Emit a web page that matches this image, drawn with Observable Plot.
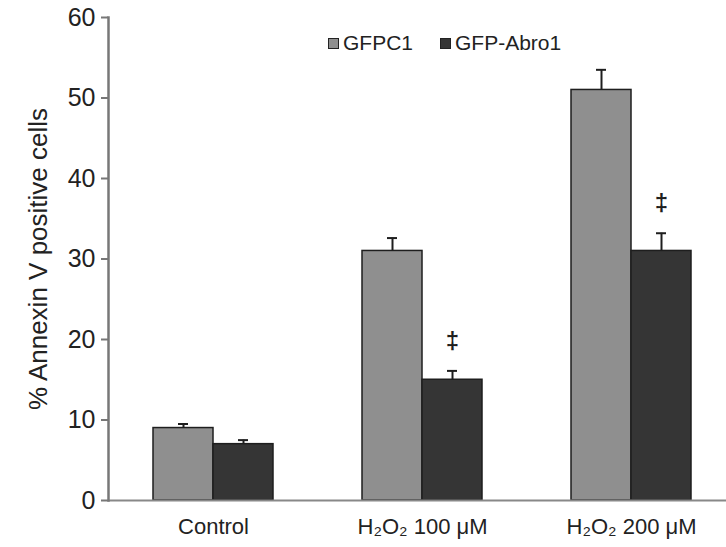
<!DOCTYPE html>
<html>
<head>
<meta charset="utf-8">
<script src="https://cdn.jsdelivr.net/npm/d3@7"></script>
<script src="https://cdn.jsdelivr.net/npm/@observablehq/plot@0.6"></script>
<style>
  body { margin: 0; background: #fff; font-family: "Liberation Sans", Arial, sans-serif; }
  #wrap { position: relative; width: 726px; height: 547px; }
  #legend { position: absolute; left: 328px; top: 30px; display: flex; gap: 27px; font-size: 21px; color: #222; line-height: 26px; }
  #legend span.item { display: flex; align-items: center; gap: 4px; }
  #legend span.sw { display: inline-block; width: 9px; height: 9px; border: 1px solid #222; }
</style>
</head>
<body>
<div id="wrap"><div id="legend"></div></div>
<script>
const categories = ["Control", "H₂O₂ 100 μM", "H₂O₂ 200 μM"];
const series = ["GFPC1", "GFP-Abro1"];
const colors = ["#8f8f8f", "#353535"];
const gfpc1 = [9, 31, 51];
const gfpc1Err = [0.5, 1.6, 2.5];
const abro1 = [7, 15, 31];
const abro1Err = [0.5, 1.1, 2.2];
const abro1Mark = ["", "‡", "‡"];
const yTicks = [0, 10, 20, 30, 40, 50, 60];
const yLabel = "% Annexin V positive cells";

const rowsA = categories.map((c, i) => ({category: c, value: gfpc1[i], err: gfpc1Err[i]}));
const rowsB = categories.map((c, i) => ({category: c, value: abro1[i], err: abro1Err[i], mark: abro1Mark[i]}));

const half = 60;
const ink = "#1e1e1e";

const chart = Plot.plot({
  width: 726,
  height: 547,
  marginTop: 17,
  marginBottom: 47,
  marginLeft: 108,
  marginRight: 0,
  style: {fontFamily: "Liberation Sans, Arial, sans-serif", color: "#222", background: "transparent"},
  x: {domain: categories, range: [108, 735], paddingInner: 0.426, paddingOuter: 0.213, label: null},
  y: {domain: [0, 60], label: null},
  marks: [
    Plot.barY(rowsA, {x: "category", y: "value", fill: colors[0], stroke: ink, strokeWidth: 1.5, insetRight: half}),
    Plot.barY(rowsB, {x: "category", y: "value", fill: colors[1], stroke: ink, strokeWidth: 1.5, insetLeft: half}),
    Plot.ruleX(rowsA, {x: "category", y1: "value", y2: d => d.value + d.err, dx: -half / 2, stroke: ink, strokeWidth: 2}),
    Plot.ruleX(rowsB, {x: "category", y1: "value", y2: d => d.value + d.err, dx: half / 2, stroke: ink, strokeWidth: 2}),
    Plot.tickY(rowsA, {x: "category", y: d => d.value + d.err, insetLeft: 25, insetRight: half + 25, stroke: ink, strokeWidth: 2}),
    Plot.tickY(rowsB, {x: "category", y: d => d.value + d.err, insetLeft: half + 25, insetRight: 25, stroke: ink, strokeWidth: 2}),
    Plot.text(rowsB, {x: "category", y: d => d.value + d.err, text: "mark", dx: half / 2, dy: -30, fontSize: 24, fontWeight: "bold", fill: ink}),
    Plot.ruleY([0], {stroke: "#888", strokeWidth: 2}),
    Plot.frame({anchor: "left", stroke: "#777", strokeWidth: 2.5}),
    Plot.axisY({ticks: yTicks, tickSize: 7, tickPadding: 6, fontSize: 25, stroke: "#777", strokeWidth: 2, label: null}),
    Plot.text([yLabel], {frameAnchor: "left", textAnchor: "middle", dx: -70, rotate: -90, fontSize: 26, fill: "#222"}),
    Plot.axisX({tickSize: 0, tickPadding: 18, fontSize: 22, label: null})
  ]
});
document.getElementById("wrap").prepend(chart);
chart.style.position = "absolute";
chart.style.left = "0";
chart.style.top = "0";
const leg = document.getElementById("legend");
series.forEach((s, i) => {
  const it = document.createElement("span");
  it.className = "item";
  const sw = document.createElement("span");
  sw.className = "sw";
  sw.style.background = colors[i];
  it.appendChild(sw);
  it.appendChild(document.createTextNode(s));
  leg.appendChild(it);
});
</script>
</body>
</html>
